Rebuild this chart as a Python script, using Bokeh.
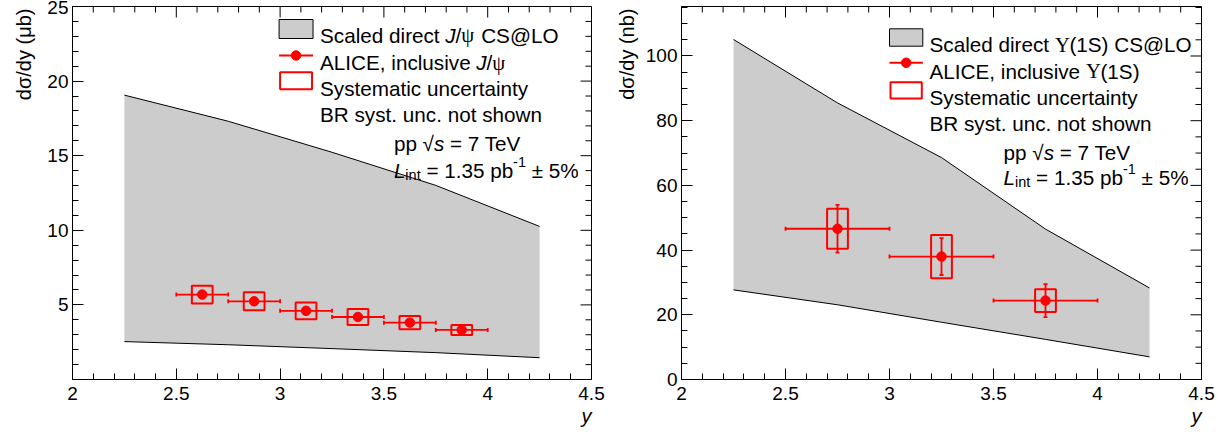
import math
import numpy as np
from bokeh.plotting import figure
from bokeh.layouts import row
from bokeh.models import Range1d, FixedTicker, Label, Whisker, TeeHead, ColumnDataSource, Title
from bokeh.embed import file_html
from bokeh.resources import INLINE

# ---------------- data ----------------
x_ticks = [2, 2.5, 3, 3.5, 4, 4.5]
x_tick_labels = ["2", "2.5", "3", "3.5", "4", "4.5"]
x_minor = [2.1, 2.2, 2.3, 2.4, 2.6, 2.7, 2.8, 2.9, 3.1, 3.2, 3.3, 3.4,
           3.6, 3.7, 3.8, 3.9, 4.1, 4.2, 4.3, 4.4]

# J/psi panel
jpsi_y = [2.625, 2.875, 3.125, 3.375, 3.625, 3.875]
jpsi_xerr = [0.125, 0.125, 0.125, 0.125, 0.125, 0.125]
jpsi_val = [5.69, 5.24, 4.60, 4.19, 3.81, 3.32]
jpsi_stat = [0.14, 0.13, 0.12, 0.11, 0.11, 0.10]
jpsi_syst = [0.60, 0.60, 0.56, 0.53, 0.45, 0.34]
jpsi_th_y = [2.25, 2.75, 3.25, 3.75, 4.25]
jpsi_th_hi = [19.06, 17.31, 15.23, 13.01, 10.26]
jpsi_th_lo = [2.54, 2.33, 2.07, 1.80, 1.46]
jpsi_y_ticks = [5, 10, 15, 20, 25]
jpsi_y_tick_labels = ["5", "10", "15", "20", "25"]
jpsi_y_minor = [1, 2, 3, 4, 6, 7, 8, 9, 11, 12, 13, 14, 16, 17, 18, 19, 21, 22, 23, 24]

# Upsilon(1S) panel
ups_y = [2.75, 3.25, 3.75]
ups_xerr = [0.25, 0.25, 0.25]
ups_val = [46.6, 38.0, 24.4]
ups_stat = [7.4, 5.7, 5.1]
ups_syst = [6.2, 6.7, 3.5]
ups_th_y = [2.25, 2.75, 3.25, 3.75, 4.25]
ups_th_hi = [105.1, 85.5, 68.6, 46.5, 28.3]
ups_th_lo = [27.7, 23.1, 17.7, 12.4, 7.0]
ups_y_ticks = [0, 20, 40, 60, 80, 100]
ups_y_tick_labels = ["0", "20", "40", "60", "80", "100"]
ups_y_minor = [5, 10, 15, 25, 30, 35, 45, 50, 55, 65, 70, 75, 85, 90, 95, 105, 110, 115]

# ---------------- style / layout ----------------
FONT = "Liberation Sans"
SERIF = "Liberation Serif"
BASE = 20.7
TICK_FS = "19px"
GRAY = "#cccccc"
RED = "#ff0000"
BOX_W = 0.1
FR_W, FR_H = 520, 373
FRAME_TOP, FRAME_BOTTOM = 7, 380
MAJ, MIN = 11, 6

ADV = {' ': 278, '(': 333, ')': 333, '%': 889, '.': 278, '/': 278, ',': 278, '-': 333,
       '=': 584, '@': 1015, '±': 584, '√': 549, 'σ': 600, 'μ': 576, 'ψ': 686, 'Υ': 700,
       'A': 667, 'B': 667, 'C': 722, 'E': 667, 'I': 278, 'L': 556, 'O': 778, 'R': 722,
       'S': 667, 'T': 611, 'V': 667, 'J': 500,
       'a': 556, 'b': 556, 'c': 500, 'd': 556, 'e': 556, 'f': 278, 'g': 556, 'h': 556,
       'i': 222, 'l': 222, 'm': 833, 'n': 556, 'o': 556, 'p': 556, 'r': 333, 's': 500,
       't': 278, 'u': 556, 'v': 500, 'w': 722, 'x': 500, 'y': 500, 'k': 500}
for d in "0123456789":
    ADV[d] = 556


def adv(s):
    return sum(ADV.get(ch, 556) for ch in s) / 1000.0


def runs(p, fx, fy, x_img, y_img, parts, size=BASE):
    cursor = 0.0
    for text, st in parts:
        fs = size * st.get("scale", 1.0)
        dy = st.get("dy", 0.0) * size
        core = text.strip(" ")
        lead = len(text) - len(text.lstrip(" "))
        trail = len(text) - len(text.rstrip(" "))
        cursor += lead * 0.278 * fs
        p.add_layout(Label(x=fx(x_img + cursor), y=fy(y_img - dy), text=core,
                           text_font=SERIF if st.get("serif") else FONT,
                           text_font_style="italic" if st.get("it") else "normal",
                           text_font_size=f"{fs:.2f}px", text_align="left",
                           text_baseline="alphabetic", text_color="black"))
        cursor += adv(core) * fs + trail * 0.278 * fs


def style_axis(ax, ticks, minor, labels, standoff):
    ax.ticker = FixedTicker(ticks=ticks, minor_ticks=minor)
    ax.major_tick_in = MAJ
    ax.major_tick_out = 0
    ax.minor_tick_in = MIN
    ax.minor_tick_out = 0
    ax.axis_line_color = "black"
    ax.major_tick_line_color = "black"
    ax.minor_tick_line_color = "black"
    ax.major_label_overrides = {t: l for t, l in zip(ticks, labels)}
    ax.major_label_text_font = FONT
    ax.major_label_text_font_size = TICK_FS
    ax.major_label_text_color = "black"
    ax.major_label_standoff = standoff


def make_panel(width, bl, br, frame_left, yr, yticks, yticklabels, yminor,
               xs, xerr, vals, stat, syst, th_x, th_hi, th_lo, ytitle, ytitle_standoff, leg):
    p = figure(width=width, height=431, x_range=Range1d(2, 4.5), y_range=Range1d(*yr),
               output_backend="svg", toolbar_location=None,
               min_border_left=bl, min_border_right=br, min_border_top=6, min_border_bottom=52)
    p.xgrid.visible = False
    p.ygrid.visible = False
    p.outline_line_color = "black"
    p.outline_line_width = 1
    p.background_fill_color = "white"
    p.border_fill_color = "white"

    style_axis(p.xaxis[0], x_ticks, x_minor, x_tick_labels, 7)
    style_axis(p.yaxis[0], yticks, yminor, yticklabels, 4)

    x0, x1 = 2.0, 4.5
    y0, y1 = yr
    fx = lambda px: x0 + (px - frame_left) * (x1 - x0) / FR_W
    fy = lambda py: y0 + (FRAME_BOTTOM - py) * (y1 - y0) / FR_H
    dxp = (x1 - x0) / FR_W
    dyp = (y1 - y0) / FR_H

    # ticks on the top and right frame edges
    p.segment(x0=x_ticks, y0=[y1] * len(x_ticks), x1=x_ticks, y1=[y1 - MAJ * dyp] * len(x_ticks),
              line_color="black", line_width=1)
    p.segment(x0=x_minor, y0=[y1] * len(x_minor), x1=x_minor, y1=[y1 - MIN * dyp] * len(x_minor),
              line_color="black", line_width=1)
    p.segment(x0=[x1] * len(yticks), y0=yticks, x1=[x1 - MAJ * dxp] * len(yticks), y1=yticks,
              line_color="black", line_width=1)
    p.segment(x0=[x1] * len(yminor), y0=yminor, x1=[x1 - MIN * dxp] * len(yminor), y1=yminor,
              line_color="black", line_width=1)

    # theory band
    p.patch(x=list(th_x) + list(th_x)[::-1], y=list(th_hi) + list(th_lo)[::-1],
            fill_color=GRAY, line_color=None)
    p.line(th_x, th_hi, line_color="black", line_width=1)
    p.line(th_x, th_lo, line_color="black", line_width=1)

    # systematic boxes
    p.rect(x=xs, y=vals, width=BOX_W, height=[2 * s for s in syst],
           fill_color=None, line_color=RED, line_width=2)

    src = ColumnDataSource(dict(
        x=xs, v=vals,
        xl=[a - b for a, b in zip(xs, xerr)], xh=[a + b for a, b in zip(xs, xerr)],
        vl=[a - b for a, b in zip(vals, stat)], vh=[a + b for a, b in zip(vals, stat)]))
    for dim, base, lo, hi in (("width", "v", "xl", "xh"), ("height", "x", "vl", "vh")):
        w = Whisker(source=src, base=base, lower=lo, upper=hi, dimension=dim,
                    line_color=RED, line_width=1.8,
                    upper_head=TeeHead(size=4, line_color=RED, line_width=1.8),
                    lower_head=TeeHead(size=4, line_color=RED, line_width=1.8))
        w.level = "glyph"
        p.add_layout(w)
    p.scatter(x=xs, y=vals, size=9.5, color=RED)

    # legend symbols
    sx0, sx1 = leg["sym_x"]
    b1 = leg["box1"]
    p.quad(left=[fx(sx0)], right=[fx(sx1)], top=[fy(b1[0])], bottom=[fy(b1[1])],
           fill_color=GRAY, line_color="black", line_width=1)
    ly = leg["line_y"]
    p.line([fx(sx0), fx(sx1)], [fy(ly), fy(ly)], line_color=RED, line_width=2)
    p.scatter([fx((sx0 + sx1) / 2)], [fy(ly)], size=9.5, color=RED)
    b3 = leg["box3"]
    p.quad(left=[fx(sx0 + 1)], right=[fx(sx1 - 1)], top=[fy(b3[0] + 1)], bottom=[fy(b3[1] - 1)],
           fill_color=None, line_color=RED, line_width=2)

    for parts, bl_y in zip(leg["rows"], leg["baselines"]):
        runs(p, fx, fy, leg["text_x"], bl_y, parts)
    info = [
        [("pp ", {}), ("√", {}), ("s", {"it": True}), (" = 7 TeV", {})],
        [("L", {"it": True}), ("int", {"scale": 0.7, "dy": -0.22}), (" = 1.35 pb", {}),
         ("-1", {"scale": 0.7, "dy": 0.42}), (" ± 5%", {})],
    ]
    for parts, bl_y in zip(info, leg["info_baselines"]):
        runs(p, fx, fy, leg["info_x"], bl_y, parts)

    # axis titles (ROOT style: at the end of the axis)
    p.add_layout(Title(text=ytitle, align="right", vertical_align="bottom", offset=2,
                       standoff=ytitle_standoff, text_font=FONT, text_font_size="20px",
                       text_font_style="normal", text_color="black"), "left")
    p.add_layout(Title(text="y", align="right", vertical_align="top", offset=0, standoff=4,
                       text_font=FONT, text_font_size="20px", text_font_style="italic",
                       text_color="black"), "below")
    return p


jpsi_leg = dict(
    sym_x=(279, 313), box1=(20, 39), line_y=56, box3=(71.7, 90.7),
    text_x=320, baselines=[35.7, 63.3, 89.3, 115.0],
    info_x=394, info_baselines=[144.0, 170.7],
    rows=[
        [("Scaled direct ", {}), ("J", {"it": True}), ("/", {}), ("ψ", {"serif": True}), (" CS@LO", {})],
        [("ALICE, inclusive ", {}), ("J", {"it": True}), ("/", {}), ("ψ", {"serif": True})],
        [("Systematic uncertainty", {})],
        [("BR syst. unc. not shown", {})],
    ])
ups_leg = dict(
    sym_x=(890, 923.3), box1=(29.3, 46.7), line_y=63.3, box3=(81.7, 100),
    text_x=930, baselines=[45.0, 71.7, 98.3, 124.0],
    info_x=1004, info_baselines=[152.7, 178.3],
    rows=[
        [("Scaled direct ", {}), ("Υ", {"serif": True}), ("(1S) CS@LO", {})],
        [("ALICE, inclusive ", {}), ("Υ", {"serif": True}), ("(1S)", {})],
        [("Systematic uncertainty", {})],
        [("BR syst. unc. not shown", {})],
    ])

p1 = make_panel(606, 71, 15, 72, (0, 25), jpsi_y_ticks, jpsi_y_tick_labels, jpsi_y_minor,
                jpsi_y, jpsi_xerr, jpsi_val, jpsi_stat, jpsi_syst,
                jpsi_th_y, jpsi_th_hi, jpsi_th_lo, "dσ/dy (μb)", 20, jpsi_leg)
p2 = make_panel(610, 75, 15, 682, (0, 115.3), ups_y_ticks, ups_y_tick_labels, ups_y_minor,
                ups_y, ups_xerr, ups_val, ups_stat, ups_syst,
                ups_th_y, ups_th_hi, ups_th_lo, "dσ/dy (nb)", 10, ups_leg)

layout = row(p1, p2)
open("out.html", "w").write(file_html(layout, INLINE))
